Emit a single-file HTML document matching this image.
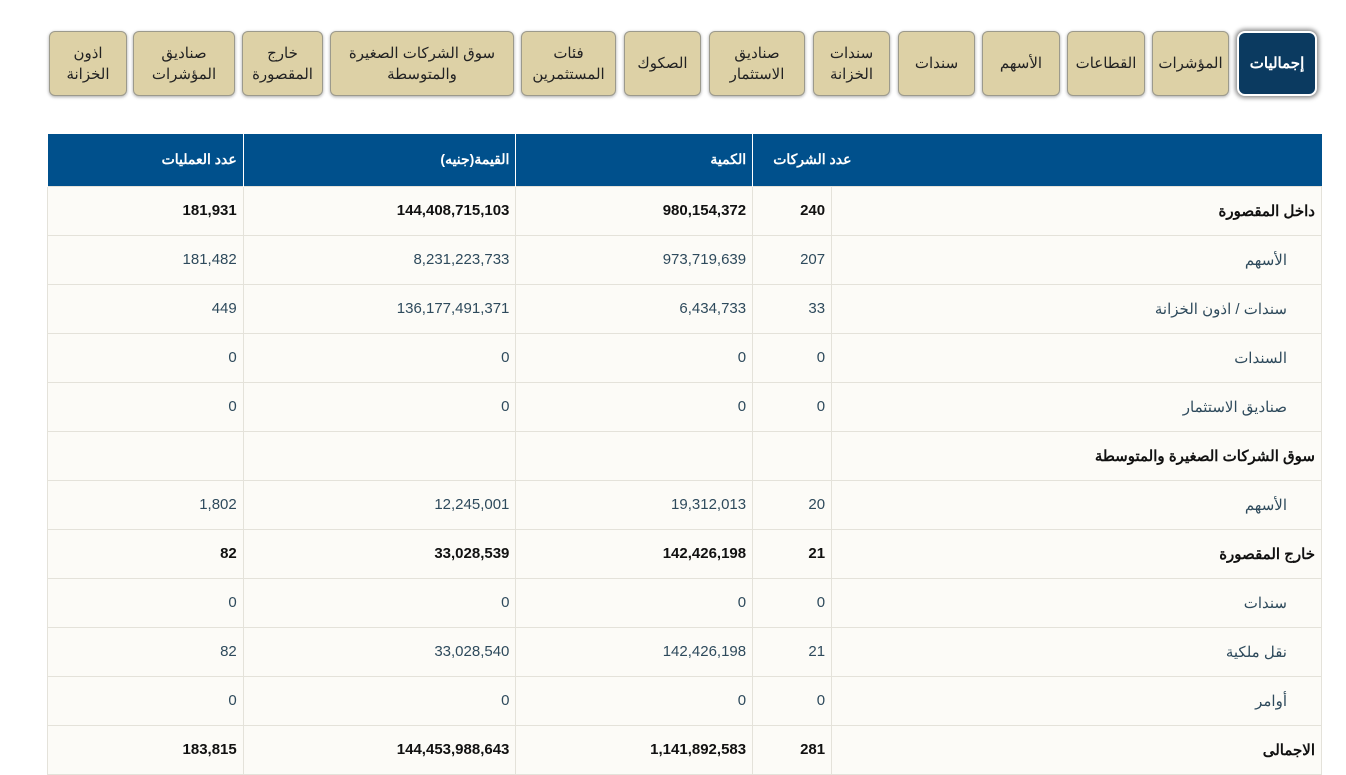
<!DOCTYPE html>
<html><head><meta charset="utf-8"><style>
*{margin:0;padding:0;box-sizing:border-box}
body{width:1346px;height:774px;overflow:hidden;background:#fff;font-family:"Liberation Sans","Noto Sans CJK SC",sans-serif;position:relative}
.tab{position:absolute;top:31px;height:65px;background:#ddd1a6;border:1px solid #9c9a8c;border-radius:6px;box-shadow:0 1px 3px rgba(0,0,0,.35);display:flex;align-items:center;justify-content:center;text-align:center;font-size:15px;line-height:21px;color:#222;direction:rtl}
.tab.act{background:#0b3a60;color:#fff;font-weight:bold;border:2px solid #fff;box-shadow:0 0 4px 2px rgba(0,0,0,.45);border-radius:8px}
table{position:absolute;left:47px;top:134px;width:1275px;border-collapse:collapse;direction:rtl;font-size:15px}
th{background:#00508c;color:#fff;height:52px;font-weight:bold;font-size:14px;border-left:1px solid #fff;text-align:right;padding:0 6px}
th.f{text-align:right;padding-right:470px}
td{height:49px;border:1px solid #e4e2da;background:#fcfbf7;color:#2e4a5c;text-align:right;padding:0 6px}
td.l{text-align:right;padding-right:34px}
tr.b td{color:#111;font-weight:bold}
tr.b td.l{padding-right:6px}
</style></head><body>
<div class="tab act" style="left:1237px;width:80px">إجماليات</div>
<div class="tab" style="left:1152px;width:77px">المؤشرات</div>
<div class="tab" style="left:1067px;width:78px">القطاعات</div>
<div class="tab" style="left:982px;width:78px">الأسهم</div>
<div class="tab" style="left:898px;width:77px">سندات</div>
<div class="tab" style="left:813px;width:77px">سندات<br>الخزانة</div>
<div class="tab" style="left:709px;width:96px">صناديق<br>الاستثمار</div>
<div class="tab" style="left:624px;width:77px">الصكوك</div>
<div class="tab" style="left:521px;width:95px">فئات<br>المستثمرين</div>
<div class="tab" style="left:330px;width:184px">سوق الشركات الصغيرة<br>والمتوسطة</div>
<div class="tab" style="left:242px;width:81px">خارج<br>المقصورة</div>
<div class="tab" style="left:133px;width:102px">صناديق<br>المؤشرات</div>
<div class="tab" style="left:49px;width:78px">اذون<br>الخزانة</div>
<table>
<colgroup><col style="width:490px"><col style="width:79px"><col style="width:237px"><col style="width:273px"><col style="width:196px"></colgroup>
<tr><th class="f" colspan="2">عدد الشركات</th><th>الكمية</th><th>القيمة(جنيه)</th><th>عدد العمليات</th></tr>
<tr class="b"><td class="l">داخل المقصورة</td><td>240</td><td>980,154,372</td><td>144,408,715,103</td><td>181,931</td></tr>
<tr><td class="l">الأسهم</td><td>207</td><td>973,719,639</td><td>8,231,223,733</td><td>181,482</td></tr>
<tr><td class="l">سندات / اذون الخزانة</td><td>33</td><td>6,434,733</td><td>136,177,491,371</td><td>449</td></tr>
<tr><td class="l">السندات</td><td>0</td><td>0</td><td>0</td><td>0</td></tr>
<tr><td class="l">صناديق الاستثمار</td><td>0</td><td>0</td><td>0</td><td>0</td></tr>
<tr class="b"><td class="l" style="border-left:none">سوق الشركات الصغيرة والمتوسطة</td><td></td><td></td><td></td><td></td></tr>
<tr><td class="l">الأسهم</td><td>20</td><td>19,312,013</td><td>12,245,001</td><td>1,802</td></tr>
<tr class="b"><td class="l">خارج المقصورة</td><td>21</td><td>142,426,198</td><td>33,028,539</td><td>82</td></tr>
<tr><td class="l">سندات</td><td>0</td><td>0</td><td>0</td><td>0</td></tr>
<tr><td class="l">نقل ملكية</td><td>21</td><td>142,426,198</td><td>33,028,540</td><td>82</td></tr>
<tr><td class="l">أوامر</td><td>0</td><td>0</td><td>0</td><td>0</td></tr>
<tr class="b"><td class="l">الاجمالى</td><td>281</td><td>1,141,892,583</td><td>144,453,988,643</td><td>183,815</td></tr>
</table>
</body></html>
